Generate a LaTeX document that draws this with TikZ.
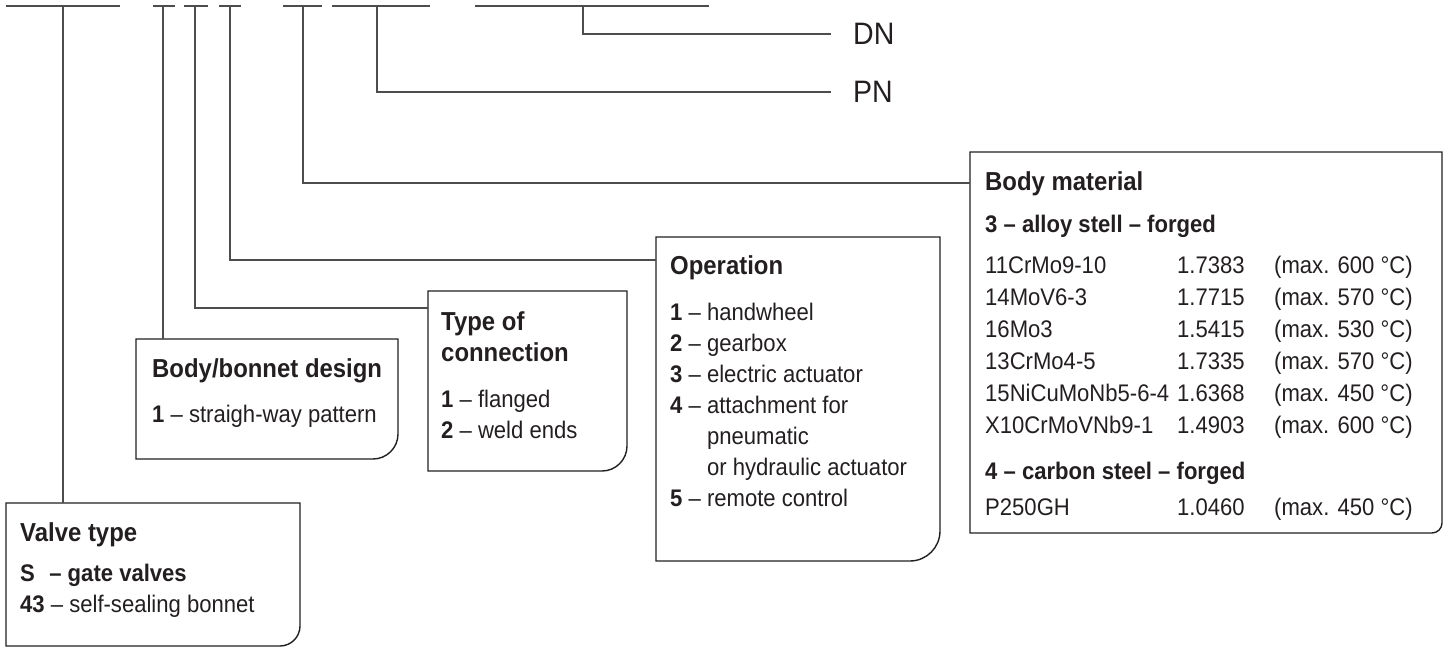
\documentclass[tikz,border=0pt]{standalone}
\usepackage{fontspec}
\setmainfont{Liberation Sans}[FakeStretch=0.92]
\usepackage{array}
\usetikzlibrary{positioning,calc}
\definecolor{ink}{HTML}{231F20}
\definecolor{wire}{HTML}{4D4D4F}
\tikzset{rule/.style={draw=wire,line width=1.4pt},frame/.style={draw=ink,line width=1.4pt},card/.style={anchor=north west,inner sep=0pt,outer sep=0pt},head/.style={anchor=base west,inner sep=0pt,text=ink,font=\fontsize{26}{31}\selectfont\bfseries},body/.style={anchor=base west,inner sep=0pt,text=ink,font=\fontsize{24}{31}\selectfont},tag/.style={anchor=west,inner xsep=22pt,inner ysep=0pt,text=ink,font=\fontsize{31}{31}\selectfont}}
\newcommand\cardframe[2]{\draw[frame] (#1.south west) -- (#1.north west) -- (#1.north east) -- ([yshift=#2]#1.south east) .. controls ([yshift=0.45*#2]#1.south east) and ([xshift=-0.45*#2]#1.south east) .. ([xshift=-#2]#1.south east) -- cycle;}

\begin{document}
\begin{tikzpicture}[x=1pt,y=-1pt]
\useasboundingbox (0,0) rectangle (1450,647);
\draw[rule] (5.6,6)--(120,6) (153,6)--(175,6) (184,6)--(208,6) (219,6)--(241,6) (283,6)--(322,6) (332,6)--(430,6) (475,6)--(709,6);
\coordinate (t1) at (63,6);
\coordinate (t2) at (163,6);
\coordinate (t3) at (195,6);
\coordinate (t4) at (230,6);
\coordinate (t5) at (303,6);
\coordinate (t6) at (377,6);
\coordinate (t7) at (583,6);
\node[tag] (dn) at (831,34) {DN};
\node[tag] (pn) at (831,92) {PN};
\node[card,minimum width=294pt,minimum height=143pt] (valve) at (6,503) {};
\node[card,minimum width=262pt,minimum height=120pt] (bonnet) at (136,339) {};
\node[card,minimum width=199pt,minimum height=180pt] (conn) at (428,291) {};
\node[card,minimum width=284pt,minimum height=324pt] (oper) at (656,237) {};
\node[card,minimum width=472pt,minimum height=381pt] (mat) at (970,152) {};
\coordinate (conn-in) at (428,308);
\coordinate (oper-in) at (656,260);
\coordinate (mat-in) at (970,183);
\cardframe{valve}{20pt}
\cardframe{bonnet}{25pt}
\cardframe{conn}{25pt}
\cardframe{oper}{30pt}
\cardframe{mat}{10pt}
\node[head] (valve-h) at (20,541) {Valve type};
\node[body] (valve-b) at (20,581) {\begin{tabular}[t]{@{}l@{}}\textbf{S\hspace{0.6em}– gate valves}\\\textbf{43} – self-sealing bonnet\end{tabular}};
\node[head] (bonnet-h) at (152,377) {Body/bonnet design};
\node[body] (bonnet-b) at (152,422) {\textbf{1} – straigh-way pattern};
\node[head] (conn-h) at (441,330) {\begin{tabular}[t]{@{}l@{}}Type of\\connection\end{tabular}};
\node[body] (conn-b) at (441,407) {\begin{tabular}[t]{@{}l@{}}\textbf{1} – flanged\\\textbf{2} – weld ends\end{tabular}};
\node[head] (oper-h) at (670,274) {Operation};
\node[body] (oper-b) at (670,320) {\begin{tabular}[t]{@{}l@{\ }l@{\ }l@{}}\textbf{1}&–&handwheel\\\textbf{2}&–&gearbox\\\textbf{3}&–&electric actuator\\\textbf{4}&–&attachment for\\&&pneumatic\\&&or hydraulic actuator\\\textbf{5}&–&remote control\end{tabular}};
\node[head] (mat-h) at (985,190) {Body material};
\node[body] (mat-b) at (985,232) {\begin{tabular}[t]{@{}p{192pt}@{}p{97pt}@{}l@{}}\multicolumn{3}{@{}l@{}}{\textbf{3 – alloy stell – forged}}\\[10pt]
11CrMo9-10&1.7383&(max. 600 °C)\\[1pt]
14MoV6-3&1.7715&(max. 570 °C)\\[1pt]
16Mo3&1.5415&(max. 530 °C)\\[1pt]
13CrMo4-5&1.7335&(max. 570 °C)\\[1pt]
15NiCuMoNb5-6-4&1.6368&(max. 450 °C)\\[1pt]
X10CrMoVNb9-1&1.4903&(max. 600 °C)\\[15pt]
\multicolumn{3}{@{}l@{}}{\textbf{4 – carbon steel – forged}}\\[5pt]
P250GH&1.0460&(max. 450 °C)\end{tabular}};
\draw[rule] (t1) -- (t1|-valve.north);
\draw[rule] (t2) -- (t2|-bonnet.north);
\draw[rule] (t3) |- (conn-in);
\draw[rule] (t4) |- (oper-in);
\draw[rule] (t5) |- (mat-in);
\draw[rule] (t6) |- (pn);
\draw[rule] (t7) |- (dn);
\end{tikzpicture}
\end{document}
